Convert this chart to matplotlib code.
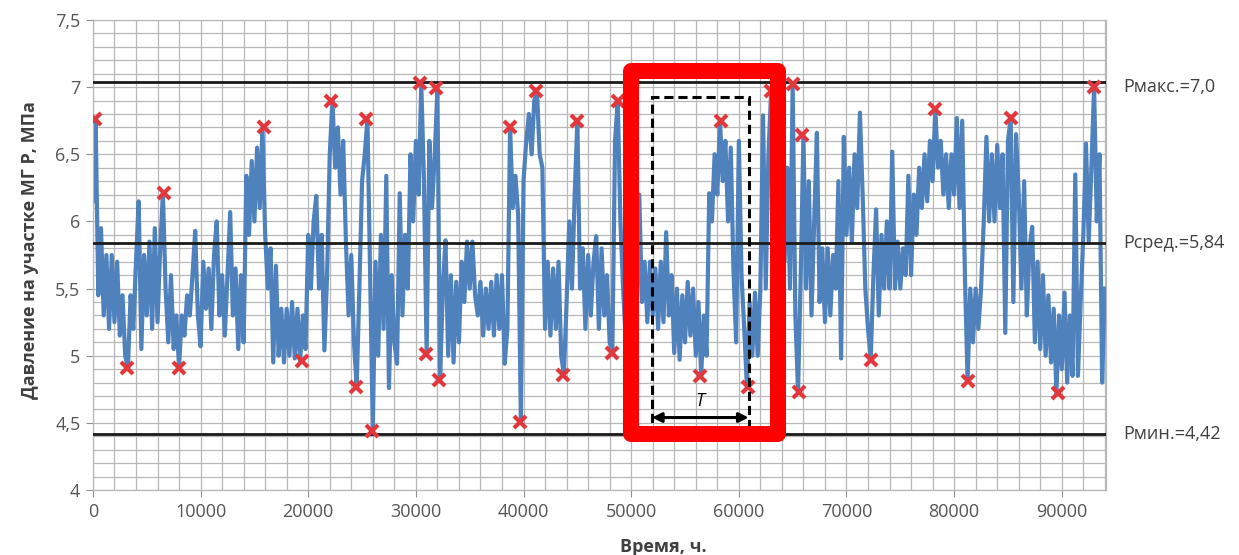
import numpy as np
import matplotlib.pyplot as plt
from matplotlib.patches import Rectangle
from matplotlib.ticker import MultipleLocator, FuncFormatter

# pressure samples, one every 250 h
step_h = 250
pressure = [
    6.15, 6.76, 5.45, 5.95, 5.30, 5.75, 5.20, 5.75,
    5.25, 5.70, 5.15, 5.45, 5.00, 4.91, 5.45, 5.20,
    5.70, 6.15, 5.05, 5.75, 5.30, 5.85, 5.20, 5.95,
    5.25, 5.80, 6.21, 5.50, 5.10, 5.60, 5.05, 5.30,
    4.91, 5.30, 5.15, 5.45, 5.30, 5.60, 5.93, 5.30,
    5.07, 5.70, 5.35, 5.65, 5.20, 5.75, 6.00, 5.30,
    5.60, 5.15, 5.60, 6.07, 5.30, 5.65, 5.05, 5.60,
    5.10, 6.34, 5.90, 6.45, 6.00, 6.55, 6.10, 6.70,
    5.90, 5.50, 5.80, 4.95, 5.67, 5.00, 5.35, 4.95,
    5.35, 5.00, 5.40, 4.98, 5.35, 4.96, 5.30, 5.05,
    5.90, 5.50, 6.00, 6.19, 5.50, 5.90, 5.04, 5.60,
    6.50, 6.90, 6.40, 6.70, 6.20, 6.60, 5.85, 5.30,
    5.75, 5.10, 4.77, 5.50, 6.30, 6.50, 6.76, 5.60,
    4.44, 5.70, 5.00, 5.90, 5.20, 6.34, 4.76, 5.60,
    5.10, 4.94, 6.21, 5.30, 5.90, 5.50, 6.50, 6.00,
    6.60, 6.20, 7.03, 6.30, 5.01, 6.60, 6.10, 6.50,
    6.99, 4.82, 5.50, 5.86, 5.00, 5.60, 4.95, 5.55,
    5.10, 5.70, 5.40, 5.85, 5.50, 5.85, 5.45, 5.30,
    5.55, 5.15, 5.50, 5.20, 5.55, 5.15, 5.60, 5.20,
    5.60, 4.94, 5.20, 6.70, 6.10, 6.34, 6.05, 4.51,
    6.30, 6.60, 6.80, 6.50, 6.90, 6.97, 6.50, 6.40,
    5.20, 5.70, 5.15, 5.65, 5.20, 5.70, 5.00, 4.86,
    5.40, 6.00, 5.50, 6.20, 6.75, 5.50, 5.80, 5.20,
    5.75, 5.30, 5.70, 5.89, 5.20, 5.80, 5.30, 5.60,
    5.10, 5.02, 6.60, 6.90, 6.00, 5.50, 5.10, 5.60,
    5.20, 5.70, 5.30, 6.20, 5.40, 5.70, 5.25, 5.70,
    5.30, 5.65, 5.20, 5.70, 5.25, 5.92, 5.30, 5.60,
    5.02, 5.50, 4.97, 5.45, 5.10, 5.55, 5.15, 5.50,
    5.00, 5.40, 4.85, 5.30, 5.00, 6.21, 6.00, 6.50,
    6.20, 6.75, 6.30, 6.60, 6.00, 6.55, 5.64, 5.10,
    6.60, 5.60, 5.20, 4.77, 5.40, 5.00, 5.47, 5.00,
    5.50, 6.79, 5.50, 6.50, 6.97, 5.80, 6.20, 5.50,
    6.60, 5.70, 6.40, 5.50, 7.02, 5.30, 4.73, 5.60,
    6.64, 5.50, 6.30, 5.30, 6.00, 6.66, 5.40, 5.80,
    5.25, 5.80, 5.30, 5.75, 5.50, 6.30, 4.98, 6.63,
    5.90, 6.40, 5.85, 6.50, 6.10, 6.81, 6.20, 5.50,
    5.20, 4.97, 5.60, 6.09, 5.30, 5.90, 5.50, 6.00,
    5.50, 6.52, 5.50, 5.85, 5.50, 5.80, 5.60, 6.34,
    5.60, 6.20, 5.90, 6.40, 6.10, 6.50, 6.15, 6.60,
    6.30, 6.84, 6.40, 6.60, 6.20, 6.50, 6.10, 6.50,
    6.20, 6.77, 6.10, 6.75, 5.60, 4.81, 5.50, 5.10,
    5.50, 5.20, 5.50, 6.00, 6.63, 6.00, 6.50, 6.00,
    6.57, 6.10, 6.50, 5.17, 6.60, 6.77, 5.40, 6.65,
    6.20, 5.50, 6.30, 5.30, 5.80, 5.96, 5.10, 5.70,
    5.05, 5.60, 5.00, 5.45, 4.95, 5.35, 4.72, 5.30,
    4.90, 5.47, 4.80, 5.30, 4.85, 6.35, 4.85, 5.40,
    5.90, 6.58, 5.85, 6.40, 7.00, 6.00, 6.50, 4.80,
    5.50,
]
hours = np.arange(len(pressure)) * step_h

# local extremes marked with red crosses
peak_hours = [200, 3160, 6590, 7950, 15850, 19380, 22160, 24420, 25410, 25970,
              30360, 30970, 31910, 32130, 38780, 39710, 41190, 43670, 44970,
              48220, 48770, 56420, 58370, 60850, 63010, 65020, 65550, 65860,
              72300, 78180, 81270, 85240, 89630, 92970]
peak_values = [6.76, 4.91, 6.21, 4.91, 6.70, 4.96, 6.90, 4.77, 6.76, 4.44,
               7.03, 5.01, 6.99, 4.82, 6.70, 4.51, 6.97, 4.86, 6.75,
               5.02, 6.90, 4.85, 6.75, 4.77, 6.97, 7.02, 4.73, 6.64,
               4.97, 6.84, 4.81, 6.77, 4.72, 7.00]

p_max_line = 7.04
p_mean = 5.84
p_min = 4.42
level_labels = ['Рмакс.=7,0', 'Рсред.=5,84', 'Рмин.=4,42']
level_label_y = [7.0, 5.84, 4.42]

period_start = 51930
period_end = 60910

plt.rcParams['font.family'] = ['Open Sans', 'DejaVu Sans']

fig = plt.figure(figsize=(12.39, 5.55), dpi=100)
ax = fig.add_axes([0.075, 0.117, 0.8176, 0.847])

grid_c = '#b8b8b8'
ax.set_xlim(0, 94100)
ax.set_ylim(4, 7.5)
ax.xaxis.set_major_locator(MultipleLocator(10000))
ax.xaxis.set_minor_locator(MultipleLocator(2000))
ax.yaxis.set_major_locator(MultipleLocator(0.5))
ax.yaxis.set_minor_locator(MultipleLocator(0.1))
ax.yaxis.set_major_formatter(FuncFormatter(lambda v, p: f'{v:g}'.replace('.', ',')))
ax.grid(True, which='both', color=grid_c, linewidth=0.9)
ax.set_axisbelow(True)
for s in ax.spines.values():
    s.set_color(grid_c)
    s.set_linewidth(0.9)
ax.tick_params(which='major', length=5, color='#909090', labelsize=13,
               labelcolor='#555555', pad=4)
ax.tick_params(which='minor', length=0)

ax.plot(hours, pressure, color='#4f81bd', linewidth=3.0, zorder=2)

for lvl in [p_max_line, p_mean, p_min]:
    ax.axhline(lvl, color='#1a1a1a', linewidth=2, zorder=3)

ax.plot(peak_hours, peak_values, linestyle='none', marker='x', markersize=8,
        markeredgewidth=3, color='#e0383d', zorder=4)

for txt, yv in zip(level_labels, level_label_y):
    ax.text(1.0168, yv, txt, transform=ax.get_yaxis_transform(), ha='left',
            va='center', fontsize=13, color='#404040')

# period box, arrow and label
ax.add_patch(Rectangle((period_start, 4.45), period_end - period_start, 6.93 - 4.45,
                       fill=False, edgecolor='black', linewidth=2.2,
                       linestyle=(0, (3, 1.6)), zorder=5))
ax.annotate('', xy=(period_end, 4.54), xytext=(period_start, 4.54),
            arrowprops=dict(arrowstyle='<|-|>', color='black', lw=2.2,
                            mutation_scale=14, shrinkA=0, shrinkB=0), zorder=5)
ax.text((period_start + period_end) / 2, 4.66, 'T', fontsize=13, style='italic',
        ha='center', va='center', zorder=5)

ax.add_patch(Rectangle((50000, 4.42), 63680 - 50000, 7.12 - 4.42, fill=False,
                       edgecolor='#ff0000', linewidth=11.5, joinstyle='round',
                       zorder=6, clip_on=False))

fig.text(663 / 1239, 1 - 547 / 555, 'Время, ч.', ha='center', va='center',
         fontsize=13, fontweight='bold', color='#404040')
fig.text(30 / 1239, 1 - 250 / 555, 'Давление на участке МГ Р, МПа', ha='center',
         va='center', rotation=90, fontsize=13, fontweight='bold', color='#404040')

fig.savefig('out.png', dpi=100)
